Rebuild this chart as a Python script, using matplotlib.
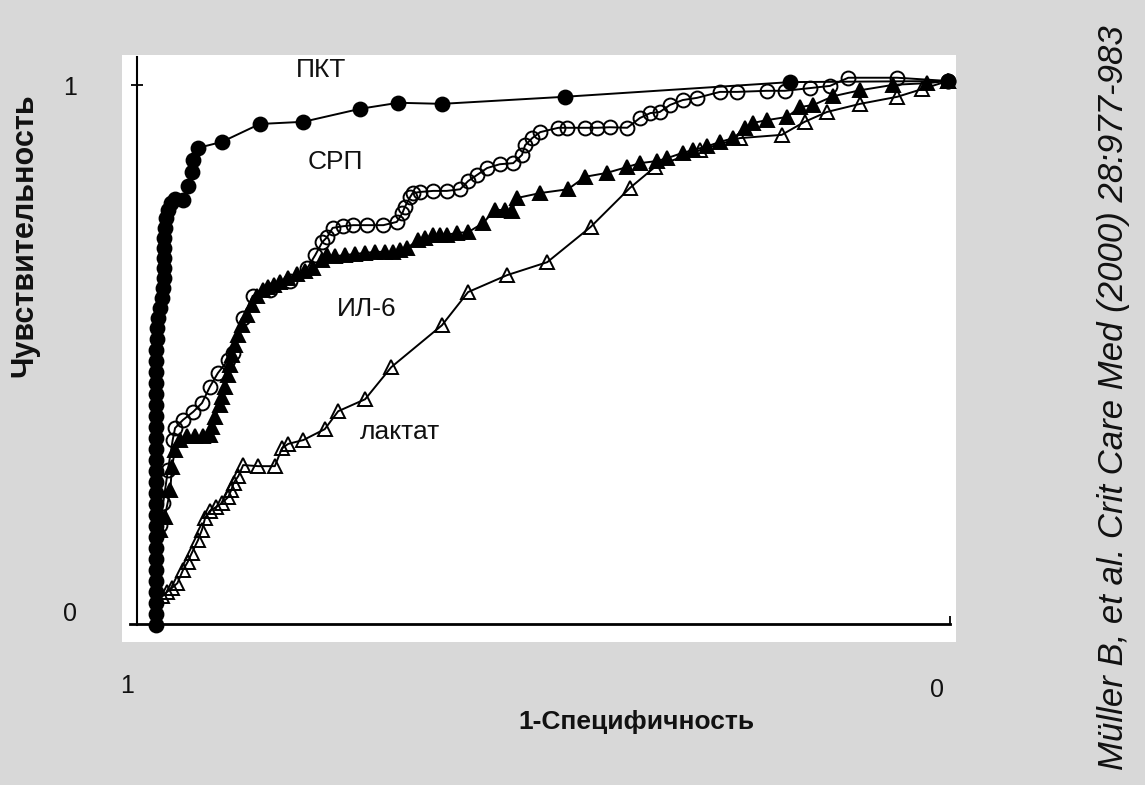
import matplotlib
matplotlib.use("Agg")
import matplotlib.pyplot as plt
from matplotlib import font_manager

# ROC curves, x = 1-specificity (axis runs 1 -> 0), y = sensitivity
pct_x = [1.0, 1.0, 1.0, 1.0, 1.0, 1.0, 1.0, 1.0, 1.0, 1.0, 1.0, 1.0, 1.0, 1.0,
         1.0, 1.0, 1.0, 1.0, 1.0, 1.0, 1.0, 1.0, 1.0, 1.0, 1.0, 1.0, 0.999, 0.999,
         0.997, 0.995, 0.992, 0.991, 0.990, 0.990, 0.990, 0.990, 0.990, 0.989,
         0.987, 0.985, 0.981, 0.976, 0.966, 0.960, 0.955, 0.953, 0.947, 0.917,
         0.869, 0.814, 0.742, 0.694, 0.639, 0.484, 0.199, 0.0]
pct_y = [0.0, 0.020, 0.040, 0.061, 0.081, 0.101, 0.121, 0.142, 0.162, 0.182,
         0.202, 0.222, 0.243, 0.263, 0.283, 0.303, 0.324, 0.344, 0.364, 0.384,
         0.404, 0.425, 0.445, 0.465, 0.485, 0.506, 0.526, 0.546, 0.564, 0.583,
         0.601, 0.619, 0.638, 0.656, 0.675, 0.693, 0.711, 0.730, 0.748, 0.763,
         0.776, 0.783, 0.781, 0.807, 0.833, 0.855, 0.877, 0.888, 0.921, 0.925,
         0.949, 0.960, 0.958, 0.971, 0.998, 1.0]

crp_x = [0.995, 0.991, 0.985, 0.979, 0.976, 0.966, 0.953, 0.942, 0.932, 0.922,
         0.909, 0.903, 0.890, 0.878, 0.856, 0.831, 0.809, 0.799, 0.790, 0.784,
         0.777, 0.764, 0.751, 0.734, 0.713, 0.696, 0.689, 0.686, 0.679, 0.676,
         0.667, 0.650, 0.633, 0.616, 0.606, 0.595, 0.582, 0.566, 0.549, 0.538,
         0.534, 0.525, 0.515, 0.492, 0.481, 0.458, 0.443, 0.427, 0.405, 0.389,
         0.376, 0.364, 0.351, 0.335, 0.317, 0.288, 0.266, 0.229, 0.206, 0.174,
         0.149, 0.126, 0.064, 0.0]
crp_y = [0.184, 0.224, 0.285, 0.340, 0.362, 0.377, 0.392, 0.408, 0.438, 0.463,
         0.487, 0.500, 0.564, 0.605, 0.616, 0.632, 0.656, 0.680, 0.704, 0.713,
         0.730, 0.733, 0.735, 0.735, 0.735, 0.741, 0.757, 0.768, 0.787, 0.794,
         0.796, 0.798, 0.798, 0.801, 0.816, 0.827, 0.840, 0.847, 0.849, 0.864,
         0.882, 0.895, 0.906, 0.914, 0.914, 0.914, 0.914, 0.915, 0.914, 0.932,
         0.941, 0.943, 0.956, 0.965, 0.969, 0.980, 0.980, 0.982, 0.982, 0.987,
         0.991, 1.006, 1.006, 1.0]

il6_x = [0.995, 0.989, 0.982, 0.980, 0.976, 0.970, 0.961, 0.951, 0.941, 0.932,
         0.929, 0.926, 0.919, 0.917, 0.913, 0.909, 0.907, 0.904, 0.900, 0.896,
         0.891, 0.885, 0.879, 0.872, 0.865, 0.859, 0.851, 0.843, 0.833, 0.822,
         0.812, 0.802, 0.790, 0.784, 0.774, 0.761, 0.749, 0.736, 0.723, 0.711,
         0.701, 0.692, 0.683, 0.669, 0.660, 0.650, 0.641, 0.633, 0.620, 0.606,
         0.587, 0.572, 0.559, 0.551, 0.544, 0.515, 0.480, 0.458, 0.431, 0.405,
         0.389, 0.367, 0.355, 0.335, 0.322, 0.304, 0.288, 0.271, 0.256, 0.246,
         0.229, 0.203, 0.187, 0.170, 0.145, 0.111, 0.069, 0.027, 0.0]
il6_y = [0.175, 0.199, 0.248, 0.290, 0.322, 0.340, 0.347, 0.347, 0.347, 0.349,
         0.364, 0.382, 0.404, 0.419, 0.438, 0.460, 0.478, 0.496, 0.515, 0.533,
         0.551, 0.570, 0.588, 0.605, 0.616, 0.621, 0.625, 0.631, 0.638, 0.645,
         0.651, 0.656, 0.671, 0.680, 0.678, 0.680, 0.682, 0.684, 0.686, 0.686,
         0.686, 0.689, 0.693, 0.708, 0.711, 0.717, 0.717, 0.717, 0.721, 0.722,
         0.739, 0.763, 0.763, 0.761, 0.785, 0.794, 0.801, 0.824, 0.831, 0.842,
         0.849, 0.853, 0.858, 0.868, 0.873, 0.880, 0.888, 0.895, 0.914, 0.923,
         0.928, 0.934, 0.952, 0.956, 0.972, 0.983, 0.993, 0.996, 1.0]

lac_x = [0.992, 0.986, 0.980, 0.973, 0.966, 0.960, 0.955, 0.947, 0.942, 0.938,
         0.932, 0.924, 0.917, 0.909, 0.905, 0.902, 0.896, 0.890, 0.871, 0.850,
         0.841, 0.833, 0.814, 0.787, 0.770, 0.736, 0.703, 0.639, 0.606, 0.557,
         0.506, 0.451, 0.402, 0.370, 0.313, 0.263, 0.210, 0.181, 0.153, 0.111,
         0.064, 0.033, 0.0]
lac_y = [0.053, 0.061, 0.068, 0.077, 0.101, 0.116, 0.132, 0.156, 0.175, 0.197,
         0.210, 0.217, 0.224, 0.235, 0.248, 0.261, 0.274, 0.294, 0.292, 0.292,
         0.325, 0.333, 0.340, 0.360, 0.393, 0.415, 0.474, 0.551, 0.612, 0.643,
         0.667, 0.732, 0.803, 0.842, 0.873, 0.895, 0.901, 0.925, 0.943, 0.958,
         0.971, 0.985, 1.0]

W, H = 1145, 785

def fx(px):
    return px / W

def fy(py):
    return 1 - py / H

names = {f.name for f in font_manager.fontManager.ttflist}
if "Liberation Sans Narrow" in names:
    lab_font, lab_size = "Liberation Sans Narrow", 23
else:
    lab_font, lab_size = "Liberation Sans", 19

fig = plt.figure(figsize=(W / 100, H / 100), dpi=100)
fig.patch.set_facecolor("#d8d8d8")

ax = fig.add_axes([fx(122), fy(642), fx(956) - fx(122), fy(55) - fy(642)])
ax.set_facecolor("white")
ax.set_xlim(1.043, -0.0101)
ax.set_ylim(-0.03125, 1.0478)

line_kw = dict(color="black", lw=1.4, ms=10, mew=1.4, mec="black")
ax.plot(lac_x, lac_y, marker="^", mfc="none", **line_kw)
ax.plot(il6_x, il6_y, marker="^", mfc="black", **line_kw)
ax.plot(crp_x, crp_y, marker="o", mfc="none", **line_kw)
ax.plot(pct_x, pct_y, marker="o", mfc="black", **line_kw)

# axes drawn like the original: spines crossing near the origin
for s in ["top", "right"]:
    ax.spines[s].set_visible(False)
ax.spines["left"].set_position(("data", 1.024))
ax.spines["left"].set_bounds(0.0, 1.044)
ax.spines["left"].set_linewidth(1.5)
ax.spines["bottom"].set_position(("data", 0.002))
ax.spines["bottom"].set_bounds(1.033, -0.0025)
ax.spines["bottom"].set_linewidth(2.0)
ax.set_yticks([0.993])
ax.set_yticklabels([])
ax.tick_params(axis="y", direction="inout", length=9, width=1.3)
ax.set_xticks([-0.0025])
ax.set_xticklabels([])
ax.tick_params(axis="x", direction="in", length=6, width=1.3)

tc = "#111111"
fig.text(fx(321), fy(77), "ПКТ", family=lab_font, fontsize=lab_size, color=tc,
         ha="center", va="baseline")
fig.text(fx(335), fy(169), "СРП", family=lab_font, fontsize=lab_size, color=tc,
         ha="center", va="baseline")
fig.text(fx(367), fy(316), "ИЛ-6", family=lab_font, fontsize=lab_size, color=tc,
         ha="center", va="baseline")
fig.text(fx(400), fy(439), "лактат", family=lab_font, fontsize=lab_size, color=tc,
         ha="center", va="baseline")

tick_kw = dict(family="Liberation Sans", fontsize=18, color=tc, ha="center", va="center")
fig.text(fx(70), fy(88), "1", **tick_kw)
fig.text(fx(70), fy(614), "0", **tick_kw)
fig.text(fx(127), fy(686), "1", **tick_kw)
fig.text(fx(937), fy(690), "0", **tick_kw)

fig.text(fx(636), fy(729), "1-Специфичность", family=lab_font, fontsize=lab_size,
         fontweight="bold", color=tc, ha="center", va="baseline")
fig.text(fx(24), fy(235), "Чувствительность", family="Liberation Sans", fontsize=22,
         fontweight="bold", color=tc, rotation=90, ha="center", va="center")
fig.text(fx(1114), fy(398), "Müller B, et al. Crit Care Med (2000) 28:977-983",
         family="Liberation Sans", fontsize=25, style="italic", color=tc,
         rotation=90, ha="center", va="center")

fig.savefig("out.png", dpi=100, facecolor=fig.get_facecolor())
